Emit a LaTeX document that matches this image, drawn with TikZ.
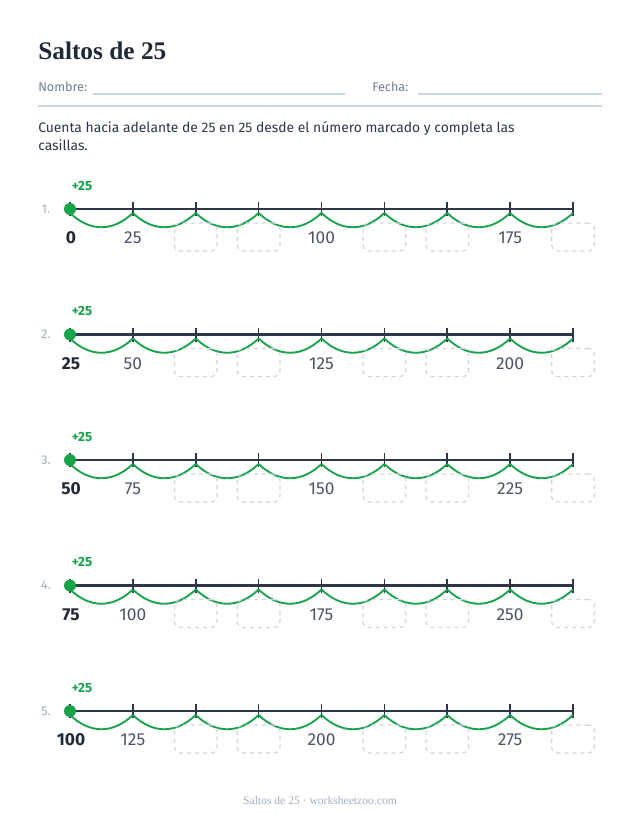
\documentclass[tikz,border=0pt]{standalone}
\usepackage{fontspec}
\setmainfont{Liberation Serif}
\newfontfamily\uifont{Fira Sans}
\definecolor{jumpGreen}{HTML}{16A34A}
\definecolor{lineNavy}{HTML}{2D3748}
\definecolor{boxGray}{HTML}{CBD5E1}
\definecolor{labelGray}{HTML}{4A5568}
\definecolor{indexGray}{HTML}{A0AEC0}
\definecolor{titleNavy}{HTML}{1F2937}
\definecolor{formGray}{HTML}{718096}
\tikzset{
  numline/.style={lineNavy, line width=1.9pt},
  tickmark/.style={lineNavy, line width=1.3pt},
  jumparc/.style={jumpGreen, line width=1.4pt},
  startdot/.style={circle, fill=jumpGreen, inner sep=0pt, minimum size=9pt},
  answerbox/.style={draw=boxGray, dashed, line width=0.9pt, rounded corners=4.5pt,
    minimum width=32pt, minimum height=21pt},
  ticklabel/.style={font=\uifont\fontsize{13}{15}\selectfont, text=labelGray},
  startlabel/.style={font=\uifont\bfseries\fontsize{13}{15}\selectfont, text=titleNavy},
}
\begin{document}
\begin{tikzpicture}[x=0.75pt, y=-0.75pt]
  \useasboundingbox (0,0) rectangle (640,829);
  \node[anchor=base west, inner sep=0pt, text=titleNavy,
    font=\bfseries\fontsize{19}{23}\selectfont] (title) at (38,59) {Saltos de 25};
  \node[anchor=base west, inner sep=0pt, text=formGray,
    font=\uifont\fontsize{9.5}{11}\selectfont] (name) at (38,91) {Nombre:};
  \node[anchor=base west, inner sep=0pt, text=formGray,
    font=\uifont\fontsize{9.5}{11}\selectfont] (date) at (372,91) {Fecha:};
  \draw[boxGray, line width=0.8pt] (93,94) -- (345,94);
  \draw[boxGray, line width=0.8pt] (418,94) -- (602,94);
  \draw[boxGray, line width=1.2pt] (38,106) -- (602,106);
  \node[anchor=base west, inner sep=0pt, text=lineNavy, align=left,
    font=\uifont\fontsize{10.4}{13}\selectfont] (task) at (38,150)
    {Cuenta hacia adelante de 25 en 25 desde el número marcado y completa las\\casillas.};
  \foreach \row/\start in {1/0, 2/25, 3/50, 4/75, 5/100} {
    \pgfmathsetmacro\ybase{209+125.5*(\row-1)}
    \coordinate (r\row-s) at (70,\ybase);
    \coordinate (r\row-e) at (573,\ybase);
    \draw[numline] (r\row-s) -- (r\row-e);
    \foreach \i in {0,...,8} {
      \pgfmathsetmacro\xt{70+62.875*\i}
      \coordinate (r\row-\i) at (\xt,\ybase);
      \coordinate (j\row-\i) at (\xt,\ybase+4);
      \draw[tickmark] (\xt,\ybase-7) -- (\xt,\ybase+7);
    }
    \foreach \i [evaluate=\i as \j using int(\i+1)] in {0,...,7}
      \draw[jumparc] (j\row-\i) .. controls +(20,19) and +(-20,19) .. (j\row-\j);
    \node[startdot] (d\row) at (r\row-0) {};
    \node[font=\uifont\bfseries\fontsize{10}{12}\selectfont, text=jumpGreen]
      (p\row) at (82,\ybase-23) {+25};
    \node[font=\uifont\fontsize{9.5}{11}\selectfont, text=indexGray]
      (n\row) at (46,\ybase) {\row.};
    \node[startlabel] (v\row-0) at (71,\ybase+29) {\start};
    \foreach \i in {1,4,7} {
      \pgfmathtruncatemacro\val{\start+25*\i}
      \node[ticklabel] (v\row-\i) at (70+62.875*\i,\ybase+29) {\val};
    }
    \foreach \i in {2,3,5,6,8}
      \node[answerbox] (b\row-\i) at (70+62.875*\i,\ybase+28) {};
  }
  \node[text=indexGray, font=\fontsize{8.7}{10}\selectfont] (foot) at (320,801)
    {Saltos de 25 · worksheetzoo.com};
\end{tikzpicture}
\end{document}
